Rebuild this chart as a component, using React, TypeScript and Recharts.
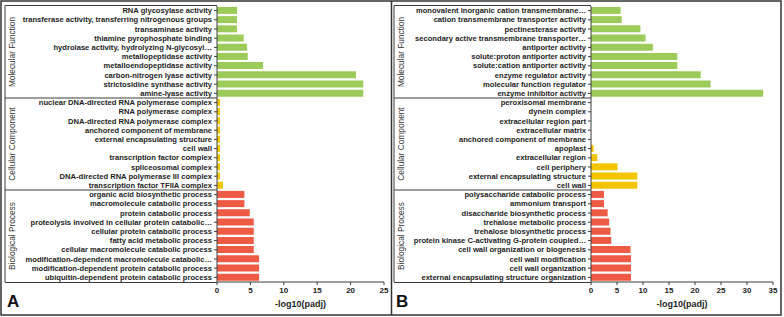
import { Bar, BarChart, Cell, XAxis, YAxis } from 'recharts'

const COLORS = {
  mf: '#9ccb59',
  cc: '#f2c500',
  bp: '#ee5b45',
  line: '#3c3c3c',
  text: '#1e1e1e',
  group: '#333333',
}

const FONT = '"Liberation Sans", Arial, Helvetica, sans-serif'

// panel A
const A_MF_TERMS = [
  'RNA glycosylase activity',
  'transferase activity, transferring nitrogenous groups',
  'transaminase activity',
  'thiamine pyrophosphate binding',
  'hydrolase activity, hydrolyzing N-glycosyl…',
  'metallopeptidase activity',
  'metalloendopeptidase activity',
  'carbon-nitrogen lyase activity',
  'strictosidine synthase activity',
  'amine-lyase activity',
]
const A_MF_VALUES = [3.0, 3.0, 3.0, 4.0, 4.5, 4.6, 6.9, 20.8, 21.9, 21.9]

const A_CC_TERMS = [
  'nuclear DNA-directed RNA polymerase complex',
  'RNA polymerase complex',
  'DNA-directed RNA polymerase complex',
  'anchored component of membrane',
  'external encapsulating structure',
  'cell wall',
  'transcription factor complex',
  'spliceosomal complex',
  'DNA-directed RNA polymerase III complex',
  'transcription factor TFIIA complex',
]
const A_CC_VALUES = [0.45, 0.45, 0.45, 0.45, 0.45, 0.45, 0.45, 0.45, 0.45, 0.9]

const A_BP_TERMS = [
  'organic acid biosynthetic process',
  'macromolecule catabolic process',
  'protein catabolic process',
  'proteolysis involved in cellular protein catabolic…',
  'cellular protein catabolic process',
  'fatty acid metabolic process',
  'cellular macromolecule catabolic process',
  'modification-dependent macromolecule catabolic…',
  'modification-dependent protein catabolic process',
  'ubiquitin-dependent protein catabolic process',
]
const A_BP_VALUES = [4.1, 4.1, 4.9, 5.5, 5.5, 5.5, 5.5, 6.3, 6.3, 6.3]

const A_TICKS = [0, 5, 10, 15, 20, 25]

// panel B
const B_MF_TERMS = [
  'monovalent inorganic cation transmembrane…',
  'cation transmembrane transporter activity',
  'pectinesterase activity',
  'secondary active transmembrane transporter…',
  'antiporter activity',
  'solute:proton antiporter activity',
  'solute:cation antiporter activity',
  'enzyme regulator activity',
  'molecular function regulator',
  'enzyme inhibitor activity',
]
const B_MF_VALUES = [5.7, 5.9, 9.5, 10.5, 11.9, 16.6, 16.6, 21.1, 23.0, 33.1]

const B_CC_TERMS = [
  'peroxisomal membrane',
  'dynein complex',
  'extracellular region part',
  'extracellular matrix',
  'anchored component of membrane',
  'apoplast',
  'extracellular region',
  'cell periphery',
  'external encapsulating structure',
  'cell wall',
]
const B_CC_VALUES = [0, 0, 0, 0, 0, 0.5, 1.2, 5.1, 8.9, 8.9]

const B_BP_TERMS = [
  'polysaccharide catabolic process',
  'ammonium transport',
  'disaccharide biosynthetic process',
  'trehalose metabolic process',
  'trehalose biosynthetic process',
  'protein kinase C-activating G-protein coupled…',
  'cell wall organization or biogenesis',
  'cell wall modification',
  'cell wall organization',
  'external encapsulating structure organization',
]
const B_BP_VALUES = [2.5, 2.5, 3.2, 3.5, 3.75, 3.9, 7.6, 7.7, 7.7, 7.7]

const B_TICKS = [0, 5, 10, 15, 20, 25, 30, 35]

const GROUP_NAMES = ['Molecular Function', 'Cellular Component', 'Biological Process']

const H = 317
const TOP = 6
const BOTTOM = 282
const AXIS_H = 30

interface Group {
  terms: string[]
  values: number[]
  color: string
}

interface Row {
  term: string
  value: number
  color: string
}

// plain <text> so long GO terms stay on one line
function TermTick({ x, y, payload }: { x: number; y: number; payload: { value: string } }) {
  return (
    <text x={x} y={y} textAnchor="end" dominantBaseline="central"
      fontSize={7.6} fontWeight={700} fill={COLORS.text} fontFamily={FONT}>
      {payload.value}
    </text>
  )
}

function Panel({ letter, left, width, axisWidth, rightPad, boxLeft, ticks, groups }: {
  letter: string
  left: number
  width: number
  axisWidth: number
  rightPad: number
  boxLeft: number
  ticks: number[]
  groups: Group[]
}) {
  const data: Row[] = []
  for (const g of groups) {
    g.terms.forEach((t, i) => data.push({ term: t, value: g.values[i], color: g.color }))
  }
  const band = (BOTTOM - TOP) / data.length
  const plotLeft = axisWidth
  let start = 0
  const spans = groups.map((g) => {
    const y0 = TOP + start * band
    start += g.terms.length
    return { y0, y1: TOP + start * band }
  })

  return (
    <div style={{ position: 'absolute', left, top: 0, width, height: H }}>
      <BarChart width={width} height={H} data={data} layout="vertical"
        margin={{ top: TOP, right: rightPad, bottom: H - BOTTOM - AXIS_H, left: 0 }}
        barCategoryGap="10%">
        <XAxis type="number" domain={[0, ticks[ticks.length - 1]]} ticks={ticks}
          height={AXIS_H} tickSize={3} tickMargin={2}
          stroke={COLORS.line}
          tick={{ fontSize: 8, fontWeight: 700, fill: COLORS.text, fontFamily: FONT }}
          label={{
            value: '-log10(padj)', position: 'insideBottom', offset: 5,
            style: { fontSize: 9, fontWeight: 700, fill: COLORS.text, fontFamily: FONT },
          }} />
        <YAxis type="category" dataKey="term" width={axisWidth} interval={0}
          tickSize={3} tickMargin={2} stroke={COLORS.line} tick={TermTick} />
        <Bar dataKey="value" isAnimationActive={false}>
          {data.map((d) => <Cell key={d.term} fill={d.color} />)}
        </Bar>
      </BarChart>
      <svg width={width} height={H}
        style={{ position: 'absolute', left: 0, top: 0, pointerEvents: 'none' }}>
        <line x1={boxLeft} y1={TOP - 0.5} x2={plotLeft} y2={TOP - 0.5}
          stroke={COLORS.line} strokeWidth={1} />
        <line x1={boxLeft} y1={TOP - 0.5} x2={boxLeft} y2={BOTTOM}
          stroke={COLORS.line} strokeWidth={1} />
        <line x1={boxLeft} y1={BOTTOM + 0.5} x2={plotLeft} y2={BOTTOM + 0.5}
          stroke={COLORS.line} strokeWidth={1} />
        {spans.slice(1).map((s, i) => (
          <line key={i} x1={boxLeft} y1={s.y0} x2={plotLeft} y2={s.y0}
            stroke={COLORS.line} strokeWidth={1} />
        ))}
        {spans.map((s, i) => {
          const cy = (s.y0 + s.y1) / 2
          const cx = boxLeft + 7
          return (
            <text key={i} x={cx} y={cy} transform={`rotate(-90 ${cx} ${cy})`}
              textAnchor="middle" dominantBaseline="central"
              fontSize={8.3} fill={COLORS.group} fontFamily={FONT}>
              {GROUP_NAMES[i]}
            </text>
          )
        })}
        <text x={boxLeft + 2} y={307} fontSize={17} fontWeight={700}
          fill="#111" fontFamily={FONT}>{letter}</text>
      </svg>
    </div>
  )
}

export default function App() {
  return (
    <div style={{ position: 'absolute', left: 0, top: 0, width: 784, height: H, background: '#fff' }}>
      <Panel letter="A" left={0} width={392} axisWidth={217} rightPad={8} boxLeft={5}
        ticks={A_TICKS}
        groups={[
          { terms: A_MF_TERMS, values: A_MF_VALUES, color: COLORS.mf },
          { terms: A_CC_TERMS, values: A_CC_VALUES, color: COLORS.cc },
          { terms: A_BP_TERMS, values: A_BP_VALUES, color: COLORS.bp },
        ]} />
      <Panel letter="B" left={392} width={392} axisWidth={199} rightPad={11} boxLeft={2}
        ticks={B_TICKS}
        groups={[
          { terms: B_MF_TERMS, values: B_MF_VALUES, color: COLORS.mf },
          { terms: B_CC_TERMS, values: B_CC_VALUES, color: COLORS.cc },
          { terms: B_BP_TERMS, values: B_BP_VALUES, color: COLORS.bp },
        ]} />
      <svg width={784} height={H}
        style={{ position: 'absolute', left: 0, top: 0, pointerEvents: 'none' }}>
        <rect x={1} y={1} width={780} height={314} fill="none" stroke="#333" strokeWidth={1.5} />
        <line x1={391.5} y1={1} x2={391.5} y2={315} stroke="#333" strokeWidth={1.5} />
      </svg>
    </div>
  )
}
